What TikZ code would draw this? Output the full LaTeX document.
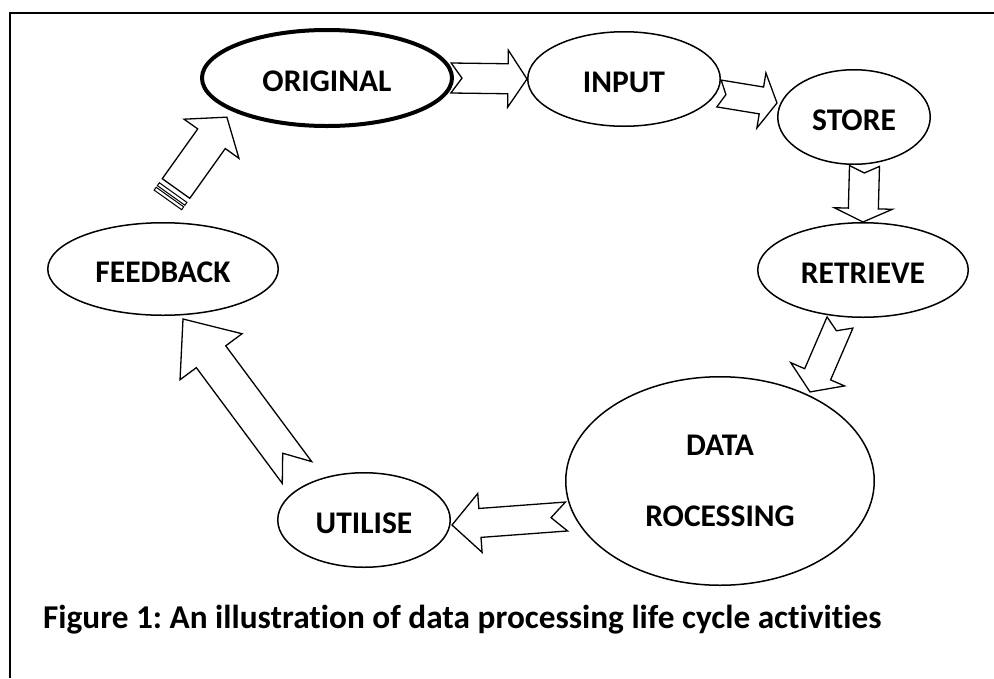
\documentclass[tikz,border=0pt]{standalone}
\usepackage{fontspec}
\setmainfont{Carlito}[Ligatures=NoCommon]
\usetikzlibrary{shapes.geometric,calc}
\frenchspacing
\newcommand\blockarrow[6]{%
  \pgfpointdiff{\pgfpointanchor{#1}{center}}{\pgfpointanchor{#2}{center}}%
  \pgfgetlastxy{\bax}{\bay}%
  \pgfmathsetmacro\baang{atan2(\bay,\bax)}%
  \pgfmathsetmacro\balen{veclen(\bax,\bay)}%
  \begin{scope}[shift={(#1)}, rotate=\baang]
    \draw[blockarr] (0,-#3) -- (#6,0) -- (0,#3) -- (\balen-#5,#3) -- (\balen-#5,#4)
      -- (\balen,0) -- (\balen-#5,-#4) -- (\balen-#5,-#3) -- cycle;
  \end{scope}}
\newcommand\stripedarrow[5]{%
  \pgfpointdiff{\pgfpointanchor{#1}{center}}{\pgfpointanchor{#2}{center}}%
  \pgfgetlastxy{\bax}{\bay}%
  \pgfmathsetmacro\baang{atan2(\bay,\bax)}%
  \pgfmathsetmacro\balen{veclen(\bax,\bay)}%
  \begin{scope}[shift={(#1)}, rotate=\baang]
    \draw[blockarr, line width=1pt] (0,-#3) rectangle (3.5,#3);
    \draw[blockarr, line width=1pt] (5.5,-#3) rectangle (9,#3);
    \draw[blockarr] (14,-#3) -- (14,#3) -- (\balen-#5,#3) -- (\balen-#5,#4)
      -- (\balen,0) -- (\balen-#5,-#4) -- (\balen-#5,-#3) -- cycle;
  \end{scope}}
\begin{document}
\begin{tikzpicture}[x=1pt,y=-1pt,
  stagebase/.style={draw, ellipse, line width=1.5pt, inner sep=0pt,
    font=\bfseries\fontsize{31.5}{71}\selectfont},
  stage/.style={stagebase, text height=26pt, text depth=0pt},
  blockarr/.style={draw, fill=white, line width=1.3pt, line join=miter},
  frameline/.style={line width=2pt},
  captext/.style={inner sep=0pt, font=\bfseries\fontsize{33.3}{38}\selectfont}]
\useasboundingbox (0,0) rectangle (994,678);
\draw[frameline] (10,678) -- (10,12.5) -- (994,12.5);

\node[stage, line width=4pt, minimum width=250pt, minimum height=96pt] (orig) at (327,78) {ORIGINAL};
\node[stage, minimum width=192.5pt, minimum height=94.5pt] (input) at (624,79) {INPUT};
\node[stage, minimum width=152.5pt, minimum height=94.5pt] (store) at (854,117) {STORE};
\node[stage, minimum width=210.5pt, minimum height=94.5pt] (retr) at (863,270) {RETRIEVE};
\node[stagebase, align=center, minimum width=308.5pt, minimum height=208.5pt] (proc) at (720,481) {DATA\\ROCESSING};
\node[stage, minimum width=172.5pt, minimum height=94.5pt] (util) at (364,520) {UTILISE};
\node[stage, minimum width=230.5pt, minimum height=92.5pt] (feed) at (163,269) {FEEDBACK};

\coordinate (a1s) at (451,78);     \coordinate (a1e) at (527,79);
\coordinate (a2s) at (719,93.5);   \coordinate (a2e) at (777,103);
\coordinate (a3s) at (864.5,166);  \coordinate (a3e) at (863,222);
\coordinate (a4s) at (840,322.5);  \coordinate (a4e) at (810,392);
\coordinate (a5s) at (566.5,516.5);\coordinate (a5e) at (452,525);
\coordinate (a6s) at (297,472.5);  \coordinate (a6e) at (183,319);
\coordinate (a7s) at (167.9,199.9);\coordinate (a7e) at (227,117);

\blockarrow{a1s}{a1e}{15}{28.5}{19}{11}
\blockarrow{a2s}{a2e}{13.6}{27.9}{15.8}{7}
\blockarrow{a3s}{a3e}{15}{29}{13.5}{7}
\blockarrow{a4s}{a4e}{14.1}{29.3}{19.2}{9}
\blockarrow{a5s}{a5e}{14.5}{29.5}{28}{15.5}
\blockarrow{a6s}{a6e}{18.3}{38.6}{47}{24}
\stripedarrow{a7s}{a7e}{16.9}{33.7}{26.5}

\node[captext, anchor=base west] (cap) at (43,628) {Figure 1: An illustration of data processing life cycle activities};
\end{tikzpicture}
\end{document}
